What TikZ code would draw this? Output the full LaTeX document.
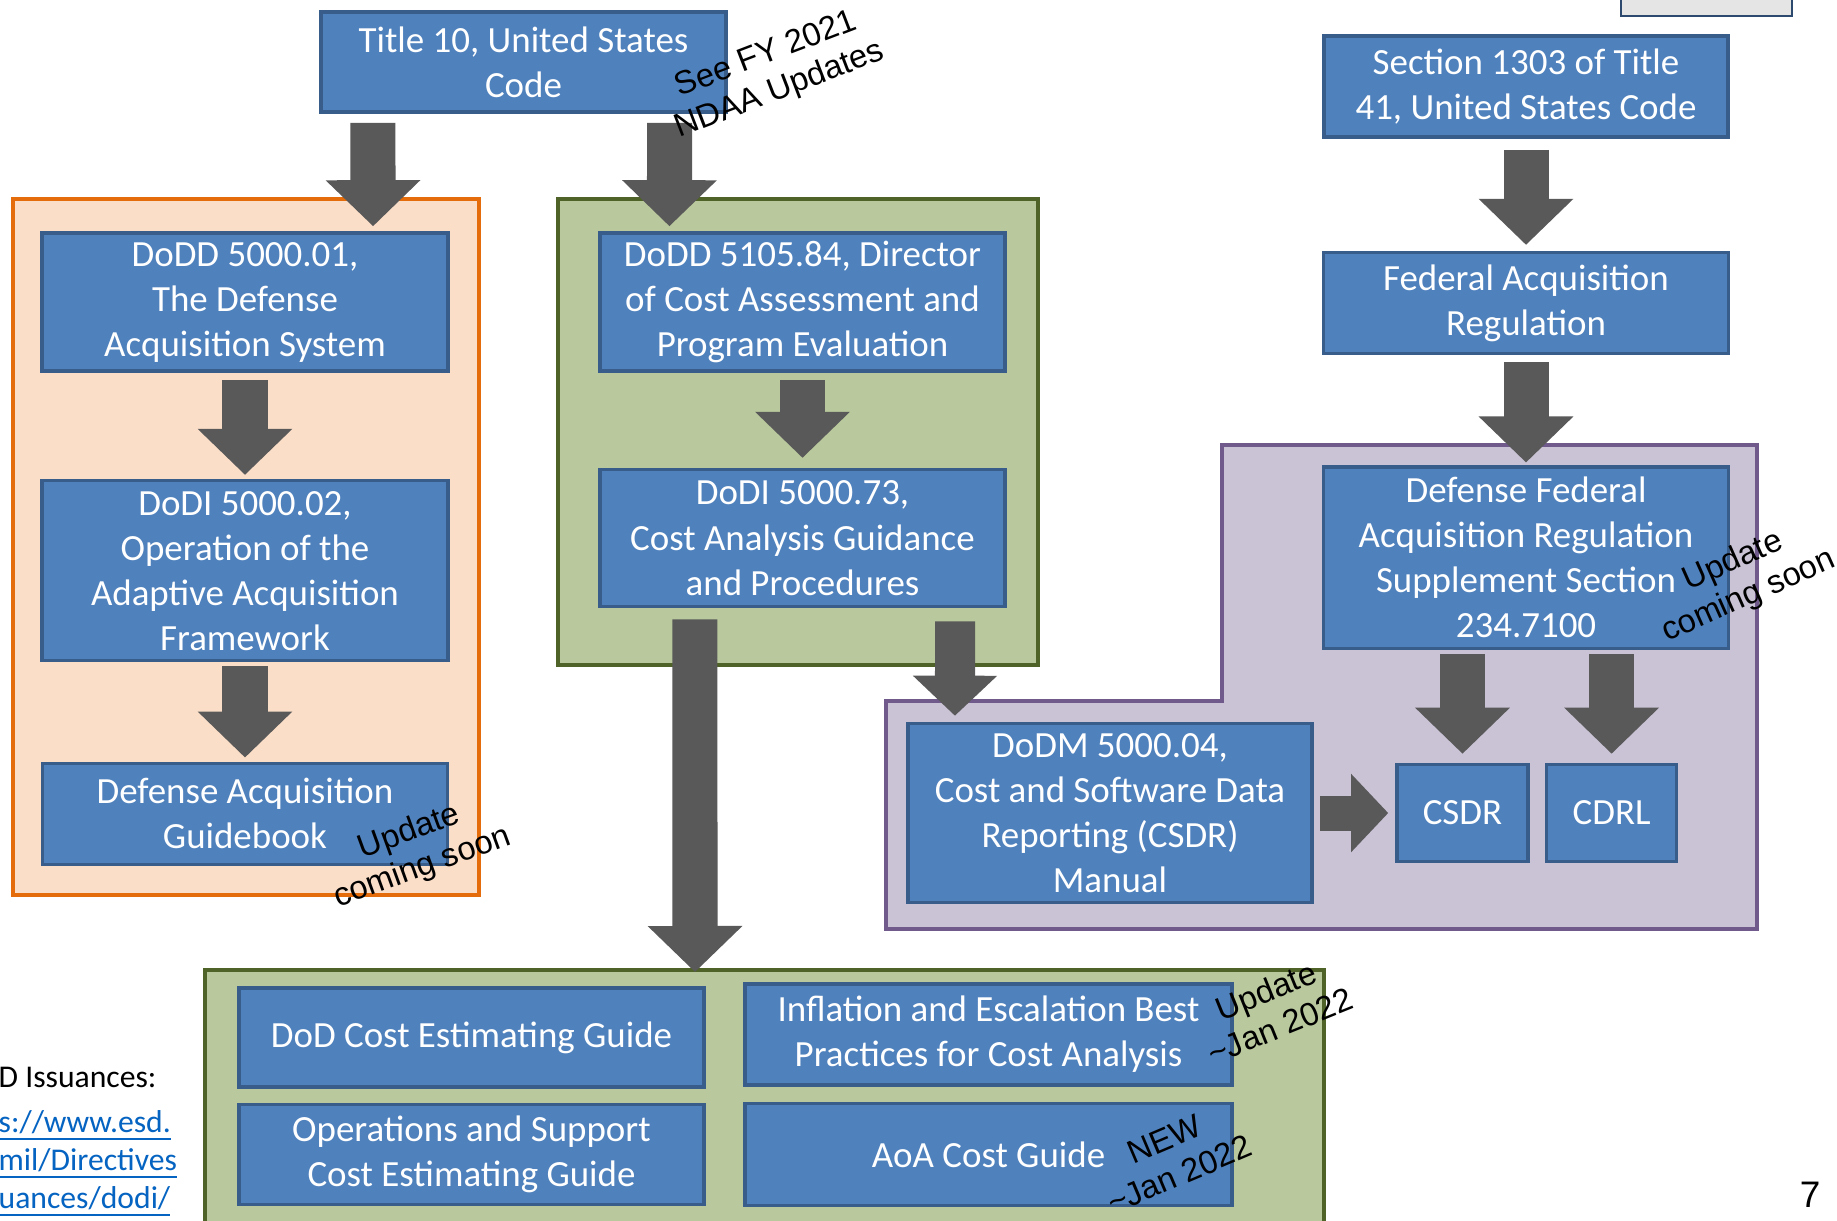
\documentclass[tikz,border=0pt]{standalone}
\usepackage{fontspec}
\setmainfont{Carlito}
\newfontfamily\notefont{Liberation Sans}
\usetikzlibrary{arrows.meta,positioning}

\definecolor{boxfill}{HTML}{4F81BD}
\definecolor{boxedge}{HTML}{385D8A}
\definecolor{arrowgray}{HTML}{595959}
\definecolor{orangefill}{HTML}{FBDEC8}
\definecolor{orangeedge}{HTML}{E46C0A}
\definecolor{greenfill}{HTML}{B9C99D}
\definecolor{greenedge}{HTML}{4F6228}
\definecolor{purplefill}{HTML}{CAC2D5}
\definecolor{purpleedge}{HTML}{705A8C}
\definecolor{linkblue}{HTML}{0563C1}

\tikzset{
  doc/.style={draw=boxedge, fill=boxfill, line width=0.35mm, text=white, align=center,
    inner sep=0pt, font=\fontsize{10.5}{12.8}\selectfont},
  note/.style={font=\notefont\fontsize{9.3}{10.8}\selectfont, align=center, inner sep=0pt},
  bigarrow/.style={draw=arrowgray, line width=4.5mm, -{Triangle[width=9.2mm,length=4.6mm]}},
  midarrow/.style={draw=arrowgray, line width=4mm, -{Triangle[width=8.2mm,length=4mm]}},
  smallarrow/.style={draw=arrowgray, line width=3.5mm, -{Triangle[width=7.6mm,length=3.7mm]}},
  group/.style={line width=0.4mm}
}

\begin{document}
\begin{tikzpicture}[x=0.01cm, y=-0.01cm]
  \useasboundingbox (0,0) rectangle (1837,1220);
  \clip (0,0) rectangle (1837,1220);
  \fill[white] (0,0) rectangle (1837,1220);

  % groups
  \draw[group, draw=orangeedge, fill=orangefill] (13,199) rectangle (479,895);
  \draw[group, draw=greenedge, fill=greenfill] (558,199) rectangle (1038,665);
  \draw[group, draw=purpleedge, fill=purplefill] (1222,445) -- (1757,445) -- (1757,929)
    -- (886,929) -- (886,701) -- (1222,701) -- cycle;
  \draw[group, draw=greenedge, fill=greenfill] (205,970) rectangle (1324,1240);
  \coordinate (guidestop) at (695,972);

  \node[draw=boxedge!80!black, fill=black!10, line width=0.25mm, minimum width=17.1mm,
    minimum height=3.6mm] (corner) at (1706.5,-2) {};

  \node[doc, minimum width=40.5mm, minimum height=10mm] (t10) at (523.5,62)
    {Title 10, United States\\Code};

  \node[doc, minimum width=40.6mm, minimum height=13.8mm] (dodd) at (245,302)
    {DoDD 5000.01,\\The Defense\\Acquisition System};
  \node[doc, minimum width=40.6mm, minimum height=18mm] (dodi02) [below=10.6mm of dodd]
    {DoDI 5000.02,\\Operation of the\\Adaptive Acquisition\\Framework};
  \node[doc, minimum width=40.5mm, minimum height=10.1mm] (dag) [below=9.9mm of dodi02]
    {Defense Acquisition\\Guidebook};

  \node[doc, minimum width=40.5mm, minimum height=13.8mm] (dodd5105) at (802.5,302)
    {DoDD 5105.84, Director\\of Cost Assessment and\\Program Evaluation};
  \node[doc, minimum width=40.5mm, minimum height=13.7mm] (dodi73) [below=9.5mm of dodd5105]
    {DoDI 5000.73,\\Cost Analysis Guidance\\and Procedures};

  \node[doc, minimum width=40.4mm, minimum height=10.1mm] (s1303) at (1526,86.5)
    {Section 1303 of Title\\41, United States Code};
  \node[doc, minimum width=40.5mm, minimum height=10.1mm] (far) [below=11.2mm of s1303]
    {Federal Acquisition\\Regulation};
  \node[doc, minimum width=40.5mm, minimum height=18.1mm] (dfars) [below=11mm of far]
    {Defense Federal\\Acquisition Regulation\\Supplement Section\\234.7100};

  \node[doc, minimum width=40.4mm, minimum height=17.9mm] (dodm) at (1110,813)
    {DoDM 5000.04,\\Cost and Software Data\\Reporting (CSDR)\\Manual};
  \node[doc, minimum width=13.1mm, minimum height=9.7mm] (csdr) at (1462.5,813) {CSDR};
  \node[doc, minimum width=13mm, minimum height=9.7mm] (cdrl) [right=1.5mm of csdr] {CDRL};

  \node[doc, minimum width=46.5mm, minimum height=9.9mm] (dodceg) at (471.5,1037.5)
    {DoD Cost Estimating Guide};
  \node[doc, minimum width=46.5mm, minimum height=10mm] (osceg) [below=1.4mm of dodceg]
    {Operations and Support\\Cost Estimating Guide};
  \node[doc, minimum width=48.7mm, minimum height=10.1mm] (infl) at (988.5,1034.5)
    {Inflation and Escalation Best\\Practices for Cost Analysis};
  \node[doc, minimum width=48.7mm, minimum height=10.2mm] (aoa) [below=1.5mm of infl]
    {AoA Cost Guide};

  \draw[bigarrow] ([xshift=-15.05mm,yshift=-0.9mm]t10.south) -- ([xshift=12.8mm,yshift=0.5mm]dodd.north);
  \draw[bigarrow] ([xshift=14.6mm,yshift=-0.9mm]t10.south) -- ([xshift=-13.3mm,yshift=0.5mm]dodd5105.north);
  \draw[bigarrow, shorten <=0.7mm, shorten >=0.4mm] (dodd) -- (dodi02);
  \draw[bigarrow, shorten <=0.4mm, shorten >=0.4mm] (dodi02.south -| dag.north) -- (dag.north);
  \draw[bigarrow, shorten <=0.7mm, shorten >=1mm] (dodd5105) -- (dodi73);
  \draw[bigarrow] ([xshift=-10.75mm,yshift=-1.1mm]dodi73.south) -- (guidestop);
  \draw[midarrow] ([xshift=15.25mm,yshift=-1.3mm]dodi73.south) -- ([xshift=-15.5mm,yshift=0.6mm]dodm.north);
  \draw[bigarrow, shorten <=1.1mm, shorten >=0.6mm] (s1303) -- (far);
  \draw[bigarrow, shorten <=0.7mm, shorten >=0.3mm] (far) -- (dfars);
  \draw[bigarrow, shorten <=0.4mm, shorten >=0.9mm] (dfars.south -| csdr.north) -- (csdr.north);
  \draw[bigarrow, shorten <=0.4mm, shorten >=0.9mm] (dfars.south -| cdrl.north) -- (cdrl.north);
  \draw[smallarrow, shorten <=0.6mm, shorten >=0.7mm] (dodm) -- (csdr);

  \node[note, rotate=21] (seefy) at (773,73) {See FY 2021\\NDAA Updates};
  \node[note, rotate=20] (dagnote) at (416,850) {Update\\coming soon};
  \node[note, rotate=24] (dfarsnote) at (1741,579) {Update\\coming soon};
  \node[note, rotate=22] (inflnote) at (1273,1008) {Update\\\textasciitilde Jan 2022};
  \node[note, rotate=23] (aoanote) at (1172,1157) {NEW\\\textasciitilde Jan 2022};

  \node[anchor=base west, inner sep=0pt, font=\fontsize{9}{10.8}\selectfont] (issuances) at (-2,1087)
    {D Issuances:};
  \node[anchor=north west, align=left, inner sep=0pt, text=linkblue, font=\fontsize{9}{10.8}\selectfont]
    (links) at (-2,1110) {\underline{s://www.esd.}\\\underline{mil/Directives}\\\underline{uances/dodi/}};

  \node[anchor=base, inner sep=0pt, font=\notefont\fontsize{10.5}{12}\selectfont] (pagenum) at (1810,1207) {7};
\end{tikzpicture}
\end{document}
